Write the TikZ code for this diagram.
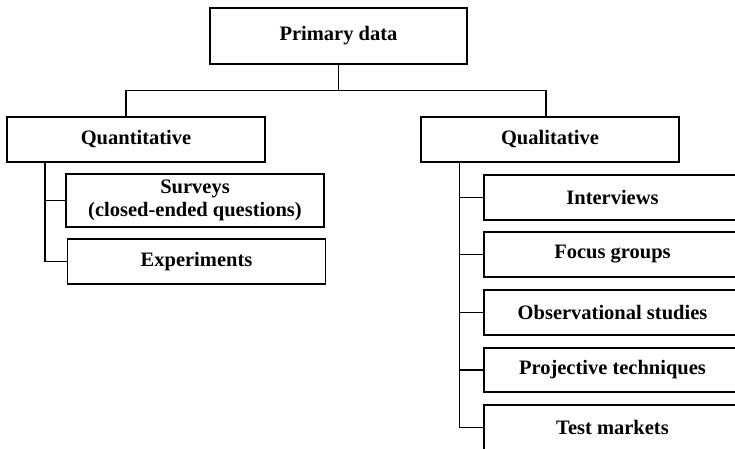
\documentclass[tikz,border=0pt]{standalone}
\usepackage{fontspec}
\setmainfont{Liberation Serif}
\begin{document}
\begin{tikzpicture}[x=1pt,y=-1pt,
  box/.style={draw,line width=1.8pt,rectangle,inner sep=0pt,align=center,
    font=\fontsize{20.5}{23}\selectfont\bfseries},
  link/.style={line width=1.8pt}]
\useasboundingbox (0,0) rectangle (735,448);
\clip (0,0) rectangle (735,448);

% top level
\node[box,minimum width=257pt,minimum height=56pt] (primary) at (338.5,36) {Primary data};

% two branches
\node[box,minimum width=258pt,minimum height=45pt] (quant) at (136,139.5) {Quantitative};
\node[box,minimum width=258pt,minimum height=45pt] (qual)  at (550,139.5) {Qualitative};

% quantitative methods
\node[box,minimum width=258pt,minimum height=53pt] (surveys) at (195,200.5) {Surveys\\(closed-ended questions)};
\node[box,minimum width=258pt,minimum height=45pt] (experiments) at (196.5,261.5) {Experiments};

% qualitative methods
\node[box,minimum width=257pt,minimum height=45pt] (interviews) at (612.5,197.5) {Interviews};
\node[box,minimum width=257pt,minimum height=45pt] (focus) at (612.5,254.5) {Focus groups};
\node[box,minimum width=257pt,minimum height=45pt] (observ) at (612.5,312.5) {Observational studies};
\node[box,minimum width=257pt,minimum height=44pt] (project) at (612.5,370) {Projective techniques};
\node[box,minimum width=257pt,minimum height=45pt] (testmk) at (612.5,427.5) {Test markets};

% spine positions
\coordinate (bar) at (0,90.5);
\coordinate (quantdrop) at (126,0);
\coordinate (qualdrop) at (546,0);
\coordinate (spineL) at (45,0);
\coordinate (spineR) at (459.5,0);

% primary to the two branches
\draw[link] (primary.south) -- (primary.south |- bar);
\draw[link] (quantdrop |- quant.north) -- (quantdrop |- bar) -- (qualdrop |- bar) -- (qualdrop |- qual.north);

% quantitative spine
\draw[link] (spineL |- quant.south) |- (experiments.west);
\draw[link] (spineL |- surveys.west) -- (surveys.west);

% qualitative spine
\draw[link] (spineR |- qual.south) |- (testmk.west);
\foreach \n in {interviews,focus,observ,project}
  \draw[link] (spineR |- \n.west) -- (\n.west);
\end{tikzpicture}
\end{document}
